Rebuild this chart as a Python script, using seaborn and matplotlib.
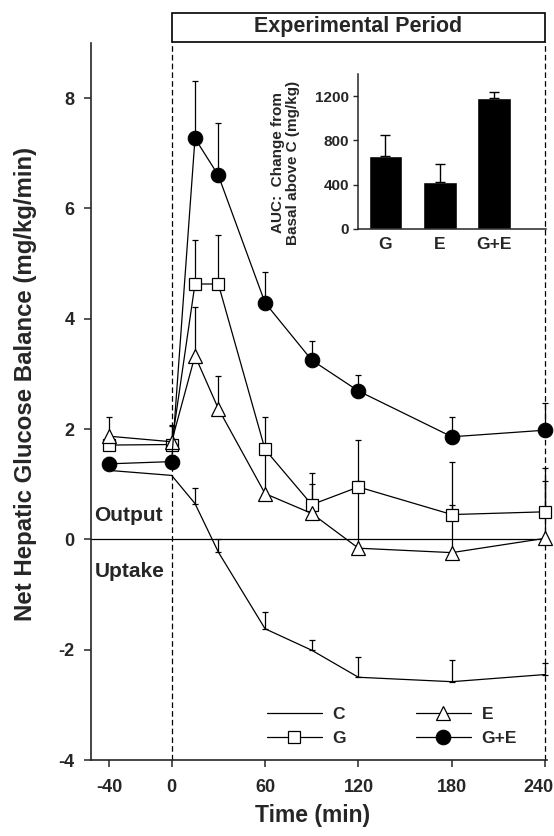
import numpy as np
import matplotlib
matplotlib.use('Agg')
import matplotlib.pyplot as plt
import matplotlib.transforms as mtransforms
import seaborn as sns
from matplotlib.patches import Rectangle

sns.set_style('ticks')
plt.rcParams['font.family'] = ['Liberation Sans', 'DejaVu Sans']
plt.rcParams['font.weight'] = 'bold'
plt.rcParams['axes.unicode_minus'] = False

# dados
tempo = [-40, 0, 15, 30, 60, 90, 120, 180, 240]
c_val = [1.25, 1.16, 0.65, -0.23, -1.62, -2.01, -2.50, -2.58, -2.45]
c_err = [0, 0, 0.28, 0.23, 0.30, 0.18, 0.36, 0.39, 0.20]
g_val = [1.71, 1.72, 4.63, 4.63, 1.63, 0.63, 0.95, 0.45, 0.50]
g_err = [0.15, 0.33, 0.80, 0.89, 0.59, 0.57, 0.85, 0.96, 0.79]
e_val = [1.87, 1.77, 3.33, 2.37, 0.83, 0.47, -0.16, -0.24, 0.02]
e_err = [0.35, 0.30, 0.89, 0.59, 0.75, 0.54, 1.22, 0.86, 1.03]
ge_val = [1.37, 1.41, 7.27, 6.60, 4.29, 3.25, 2.69, 1.86, 1.98]
ge_err = [0.12, 0.12, 1.04, 0.94, 0.55, 0.35, 0.29, 0.36, 0.50]

x_ticks = [-40, 0, 60, 120, 180, 240]
y_ticks = [-4, -2, 0, 2, 4, 6, 8]

auc_grupos = ['G', 'E', 'G+E']
auc_val = [662, 425, 1182]
auc_err = [183, 158, 55]
auc_ticks = [0, 400, 800, 1200]

fig = plt.figure(figsize=(5.54, 8.36), dpi=100)
ax = fig.add_axes([0.1648, 0.0909, 0.8217, 0.8577])


def barras_erro(ax, x, y, err):
    x = np.array(x); y = np.array(y); err = np.array(err)
    m = err > 0
    ax.errorbar(x[m], y[m], yerr=[np.zeros(m.sum()), err[m]], fmt='none',
                ecolor='black', elinewidth=0.9, capsize=2.5, capthick=0.9,
                zorder=2, clip_on=False)


for v, e in [(c_val, c_err), (g_val, g_err), (e_val, e_err), (ge_val, ge_err)]:
    barras_erro(ax, tempo, v, e)

sns.lineplot(x=tempo, y=c_val, color='black', lw=0.9, ax=ax, label='C',
             zorder=3, clip_on=False)
sns.lineplot(x=tempo, y=g_val, color='black', lw=0.9, ax=ax, label='G',
             marker='s', markersize=8, markerfacecolor='white',
             markeredgecolor='black', markeredgewidth=0.9, zorder=4, clip_on=False)
sns.lineplot(x=tempo, y=e_val, color='black', lw=0.9, ax=ax, label='E',
             marker='^', markersize=9.5, markerfacecolor='white',
             markeredgecolor='black', markeredgewidth=0.9, zorder=5, clip_on=False)
sns.lineplot(x=tempo, y=ge_val, color='black', lw=0.9, ax=ax, label='G+E',
             marker='o', markersize=10.5, markerfacecolor='black',
             markeredgecolor='black', zorder=6, clip_on=False)

ax.axhline(0, color='black', lw=0.9, zorder=1)
for xv in [0, 240]:
    ax.plot([xv, xv], [-4, 9.02], color='black', lw=0.9, ls='--',
            dashes=(4.5, 2.5), clip_on=False, zorder=1)

ax.add_patch(Rectangle((0, 9.02), 240, 0.53, fill=False, lw=1.2,
                       edgecolor='black', clip_on=False))
ax.text(120, 9.29, 'Experimental Period', ha='center', va='center',
        fontsize=15.5, fontweight='bold')

ax.text(-49.5, 0.44, 'Output', ha='left', va='center', fontsize=15, fontweight='bold')
ax.text(-49.5, -0.58, 'Uptake', ha='left', va='center', fontsize=15, fontweight='bold')

ax.set_xlim(-51.6, 240.8)
ax.set_ylim(-4, 9.0)
ax.set_xticks(x_ticks)
ax.set_xticklabels([str(t) for t in x_ticks])
ax.set_yticks(y_ticks)
ax.set_yticklabels([str(t) for t in y_ticks])
ax.tick_params(axis='both', labelsize=13, length=5, width=1.1, direction='out')
ax.tick_params(axis='x', pad=9)
ax.tick_params(axis='y', pad=7)
sns.despine(ax=ax)
for s in ['left', 'bottom']:
    ax.spines[s].set_linewidth(1.2)

# o rotulo 240 fica um pouco a esquerda no original
ultimo = ax.get_xticklabels()[-1]
ultimo.set_transform(ultimo.get_transform() +
                     mtransforms.ScaledTranslation(-5 / 72, 0, fig.dpi_scale_trans))

ax.set_ylabel('Net Hepatic Glucose Balance (mg/kg/min)', fontsize=17.3,
              fontweight='bold', va='center')
ax.yaxis.set_label_coords(-0.145, 0.525)
ax.set_xlabel('Time (min)', fontsize=16.5, fontweight='bold', va='center')
ax.xaxis.set_label_coords(0.485, -0.077)

h, l = ax.get_legend_handles_labels()
ordem = [l.index(n) for n in ['C', 'G', 'E', 'G+E']]
ax.legend([h[i] for i in ordem], [l[i] for i in ordem], ncol=2, frameon=False,
          loc='lower left', bbox_to_anchor=(0.385, 0.02), fontsize=12.5,
          handlelength=3.2, handletextpad=0.6, columnspacing=4.0,
          labelspacing=0.5, borderpad=0, borderaxespad=0)

# grafico inserido (AUC)
axi = fig.add_axes([358 / 554, 1 - 229 / 836, 188 / 554, 155 / 836])
axi.patch.set_alpha(0)
sns.barplot(x=auc_grupos, y=auc_val, color='black', width=0.62, saturation=1,
            errorbar=None, ax=axi)
axi.errorbar(range(3), auc_val, yerr=[[0] * 3, auc_err], fmt='none',
             ecolor='black', elinewidth=1, capsize=3.5, capthick=1)
axi.set_xlim(-0.507, 2.96)
axi.set_ylim(0, 1400)
axi.set_yticks(auc_ticks)
axi.set_yticklabels([str(t) for t in auc_ticks])
axi.tick_params(axis='y', labelsize=11, length=3.5, width=1, pad=3)
axi.tick_params(axis='x', labelsize=12.5, length=0, pad=6)
sns.despine(ax=axi)
for s in ['left', 'bottom']:
    axi.spines[s].set_linewidth(1.1)
axi.set_ylabel('AUC:  Change from\nBasal above C (mg/kg)', fontsize=11,
               fontweight='bold', va='center', linespacing=1.1)
axi.yaxis.set_label_coords(-0.388, 0.426)

fig.savefig('out.png', dpi=100)
